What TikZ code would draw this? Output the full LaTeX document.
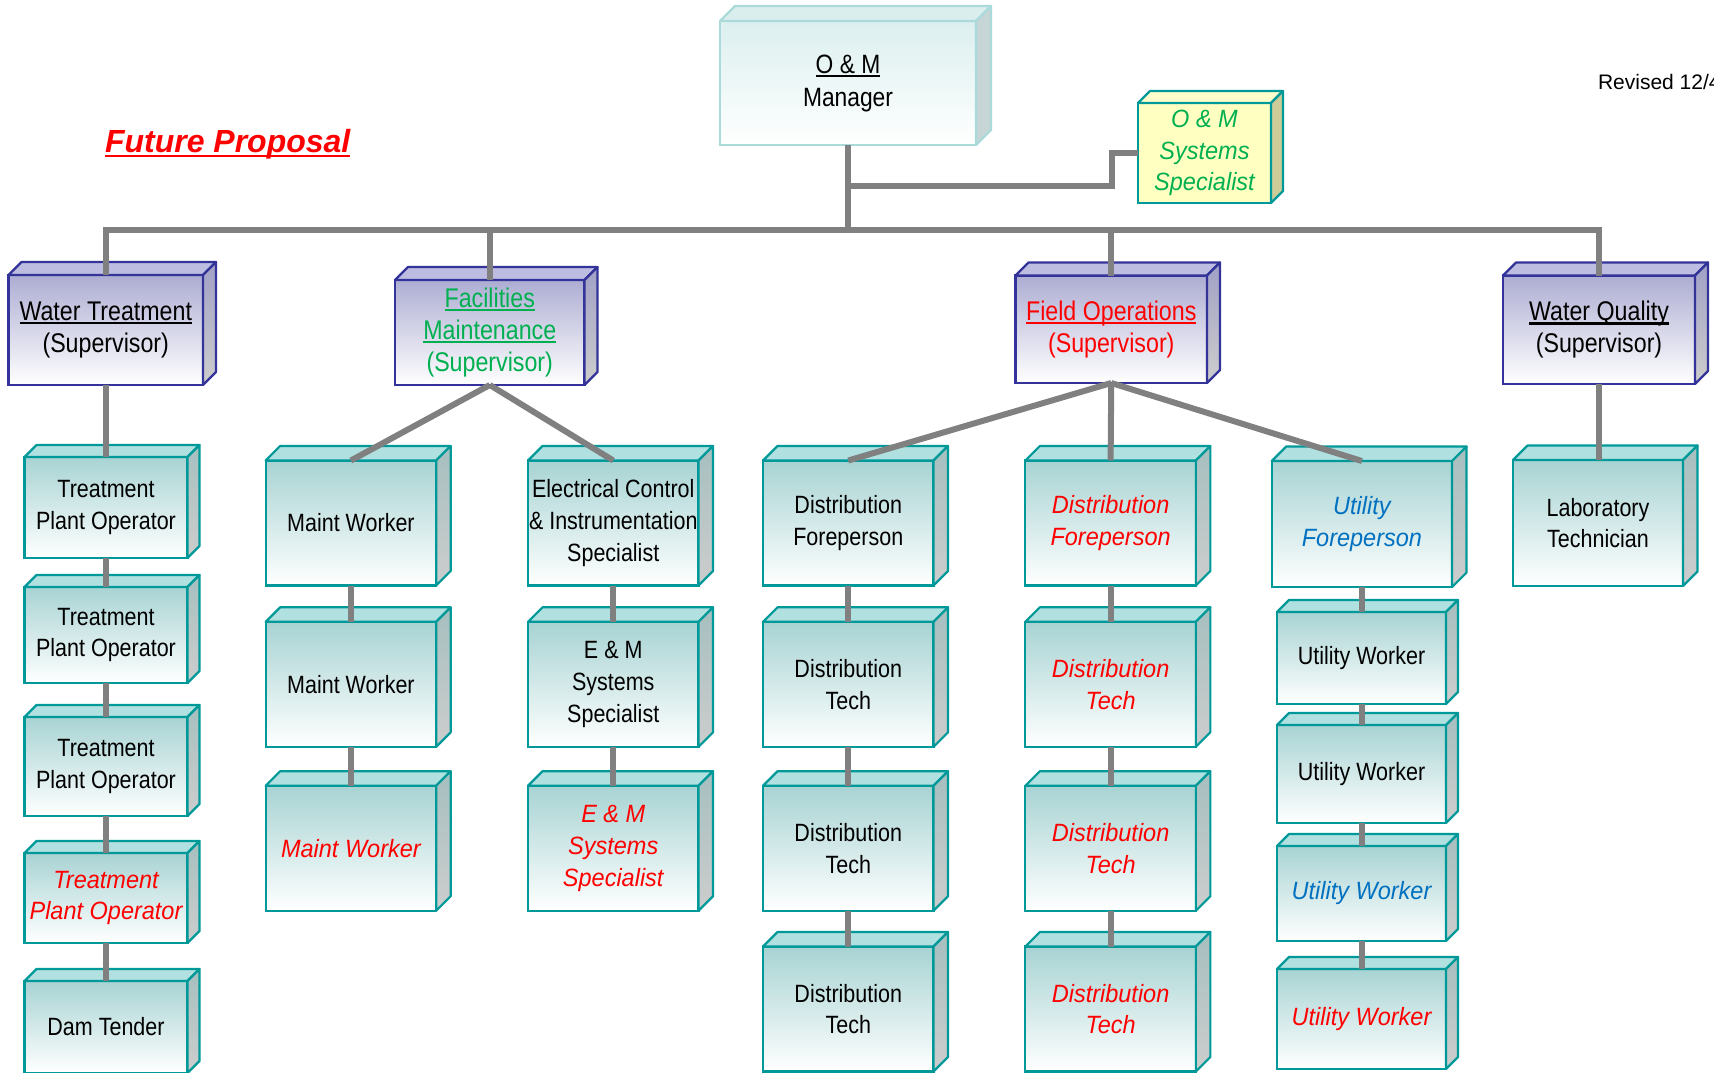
\documentclass[tikz,border=0pt]{standalone}
\usepackage{fontspec}
\setmainfont{Liberation Sans}[FakeStretch=0.86,ItalicFeatures={FakeStretch=0.94}]
\newfontfamily\widesans{Liberation Sans}
\definecolor{tealedge}{HTML}{009999}
\definecolor{tealfront}{HTML}{A8D3D3}
\definecolor{tealtint}{HTML}{B0E0E0}
\definecolor{tealwallc}{HTML}{A6BFBF}
\definecolor{wallgray}{HTML}{CDCDCD}
\definecolor{navyedge}{HTML}{333399}
\definecolor{lilacfront}{HTML}{ADADD3}
\definecolor{lilactint}{HTML}{BDBDE2}
\definecolor{lilacwallc}{HTML}{A0A0C6}
\definecolor{paleedge}{HTML}{ABDADA}
\definecolor{palefront}{HTML}{DCEFEF}
\definecolor{paletint}{HTML}{DAEEEE}
\definecolor{palewallc}{HTML}{C6D6D6}
\definecolor{lemonfront}{HTML}{FFFFC2}
\definecolor{lemontint}{HTML}{FFFFCC}
\definecolor{lemonwallc}{HTML}{CCCC99}
\definecolor{linkgray}{HTML}{808080}
\definecolor{newred}{HTML}{FF0000}
\definecolor{fmgreen}{HTML}{00B050}
\definecolor{utilblue}{HTML}{0070C0}

\newcommand\boxfont{\fontsize{25}{31.7}\selectfont}
\newcommand\supfont{\fontsize{27}{32}\selectfont}
\newcommand\ulin[1]{\setbox0\hbox{#1}\rlap{\rule[-0.14em]{\wd0}{0.075em}}\box0}
% roof and right wall of a box node: name, depth, style prefix
\newcommand\boxsides[3]{%
  \draw[#3roof] (#1.north west) -- ++(#2,#2) -- ([shift={(#2,#2)}]#1.north east) -- (#1.north east) -- cycle;
  \draw[#3wall] (#1.north east) -- ([shift={(#2,#2)}]#1.north east) -- ([shift={(#2,#2)}]#1.south east) -- (#1.south east) -- cycle;
}

\begin{document}
\begin{tikzpicture}[x=1pt,y=1pt,
    every node/.style={inner sep=0pt,outer sep=0pt,align=center,font=\boxfont},
    teal/.style={draw=tealedge,line width=2.2pt,top color=tealfront,bottom color=white},
    tealroof/.style={draw=tealedge,line width=2.2pt,fill=tealtint,line join=round},
    tealwall/.style={draw=tealedge,line width=2.2pt,top color=tealwallc,bottom color=wallgray,line join=round},
    lilac/.style={draw=navyedge,line width=2.2pt,top color=lilacfront,bottom color=white,font=\supfont},
    lilacroof/.style={draw=navyedge,line width=2.2pt,fill=lilactint,line join=round},
    lilacwall/.style={draw=navyedge,line width=2.2pt,top color=lilacwallc,bottom color=wallgray,line join=round},
    pale/.style={draw=paleedge,line width=2.2pt,top color=palefront,bottom color=white},
    paleroof/.style={draw=paleedge,line width=2.2pt,fill=paletint,line join=round},
    palewall/.style={draw=paleedge,line width=2.2pt,fill=palewallc,line join=round},
    lemon/.style={draw=tealedge,line width=2.2pt,fill=lemonfront},
    lemonroof/.style={draw=tealedge,line width=2.2pt,fill=lemontint,line join=round},
    lemonwall/.style={draw=tealedge,line width=2.2pt,fill=lemonwallc,line join=round},
    wide/.style={minimum width=170.5,minimum height=125},
    col1/.style={minimum width=163},
    col6/.style={minimum width=169},
    redit/.style={text=newred,font=\boxfont\itshape},
    blueit/.style={text=utilblue,font=\boxfont\itshape},
    link/.style={draw=linkgray,line width=6pt}]
    \useasboundingbox (0,0) rectangle (1714,-1072);

    \node[text=newred,font=\widesans\fontsize{32}{36}\selectfont\bfseries\itshape,anchor=base west] (title) at (105,-152.7) {\ulin{Future Proposal}};
    \node[font=\widesans\fontsize{21}{25}\selectfont,anchor=west] (rev) at (1598,-82) {Revised 12/4};

    % top
    \node[pale,minimum width=256,minimum height=124,font=\fontsize{26.5}{33}\selectfont] (mgr) at (848,-83) {\ulin{O \& M}\\Manager};
    \node[lemon,minimum width=133,minimum height=100,text=fmgreen,font=\boxfont\itshape] (spec) at (1204.5,-153) {O \& M\\Systems\\Specialist};

    % supervisors
    \node[lilac,minimum width=194.5,minimum height=110] (wt) at (105.75,-330) {\ulin{Water Treatment}\\(Supervisor)};
    \node[lilac,minimum width=189.5,minimum height=105,text=fmgreen] (fm) at (489.75,-332.5) {\ulin{Facilities}\\\ulin{Maintenance}\\(Supervisor)};
    \node[lilac,minimum width=191.5,minimum height=107.5,text=newred] (fo) at (1111.25,-329.25) {\ulin{Field Operations}\\(Supervisor)};
    \node[lilac,minimum width=192,minimum height=108.5] (wq) at (1599,-329.75) {\ulin{Water Quality}\\(Supervisor)};

    % water treatment
    \node[teal,col1,minimum height=101] (tpo1) at (106,-507.5) {Treatment\\Plant Operator};
    \node[teal,col1,minimum height=96] (tpo2) at (106,-635) {Treatment\\Plant Operator};
    \node[teal,col1,minimum height=99] (tpo3) at (106,-766.5) {Treatment\\Plant Operator};
    \node[teal,col1,minimum height=90,redit] (tpo4) at (106,-898) {Treatment\\Plant Operator};
    \node[teal,col1,minimum height=92] (dam) at (106,-1027) {Dam Tender};

    % facilities maintenance
    \node[teal,wide] (mw1) at (350.9,-523) {Maint Worker};
    \node[teal,wide] (mw2) at (350.9,-684.3) {Maint Worker};
    \node[teal,wide,redit] (mw3) at (350.9,-848.25) {Maint Worker};
    \node[teal,wide] (eci) at (613.25,-523) {Electrical Control\\\& Instrumentation\\Specialist};
    \node[teal,wide] (ems1) at (613.25,-684.3) {E \& M\\Systems\\Specialist};
    \node[teal,wide,redit] (ems2) at (613.25,-848.25) {E \& M\\Systems\\Specialist};

    % field operations
    \node[teal,wide] (dfp1) at (848.25,-523) {Distribution\\Foreperson};
    \node[teal,wide] (dt1) at (848.25,-684.3) {Distribution\\Tech};
    \node[teal,wide] (dt2) at (848.25,-848.25) {Distribution\\Tech};
    \node[teal,wide] (dt3) at (848.25,-1009) {Distribution\\Tech};
    \node[teal,wide,redit] (dfp2) at (1110.6,-523) {Distribution\\Foreperson};
    \node[teal,wide,redit] (dt4) at (1110.6,-684.3) {Distribution\\Tech};
    \node[teal,wide,redit] (dt5) at (1110.6,-848.25) {Distribution\\Tech};
    \node[teal,wide,redit] (dt6) at (1110.6,-1009) {Distribution\\Tech};
    \node[teal,minimum width=180.3,minimum height=126,blueit] (ufp) at (1361.9,-524) {Utility\\Foreperson};
    \node[teal,col6,minimum height=92] (uw1) at (1361.5,-658) {Utility Worker};
    \node[teal,col6,minimum height=98] (uw2) at (1361.5,-774) {Utility Worker};
    \node[teal,col6,minimum height=95,blueit] (uw3) at (1361.5,-893.5) {Utility Worker};
    \node[teal,col6,minimum height=100,redit] (uw4) at (1361.5,-1019) {Utility Worker};

    % water quality
    \node[teal,minimum width=170,minimum height=126] (lab) at (1598,-523) {Laboratory\\Technician};

    \boxsides{mgr}{15}{pale}
    \boxsides{spec}{12}{lemon}
    \foreach \n in {wt,fm,fo,wq} {\boxsides{\n}{13}{lilac}}
    \foreach \n in {tpo1,tpo2,tpo3,tpo4,dam,uw1,uw2,uw3,uw4} {\boxsides{\n}{12}{teal}}
    \foreach \n in {mw1,mw2,mw3,eci,ems1,ems2,dfp1,dt1,dt2,dt3,dfp2,dt4,dt5,dt6,ufp,lab} {\boxsides{\n}{14.5}{teal}}

    % connectors
    \coordinate (bus) at (848,-229.5);
    \coordinate (jog) at (1112,-186);
    \draw[link] (mgr.south) -- (mgr.south |- bus);
    \draw[link] (mgr.south |- jog) -- (jog) |- (spec.west);
    \draw[link] (wt.north) |- (bus) -| (wq.north);
    \draw[link] (fm.north) -- (fm.north |- bus);
    \draw[link] (fo.north) -- (fo.north |- bus);
    \draw[link] (fm.south) -- (mw1.north);
    \draw[link] (fm.south) -- (eci.north);
    \draw[link] (fo.south) -- (dfp1.north);
    \draw[link] (fo.south) -- (dfp2.north);
    \draw[link] (fo.south) -- (ufp.north);
    \foreach \a/\b in {wt/tpo1,tpo1/tpo2,tpo2/tpo3,tpo3/tpo4,tpo4/dam,mw1/mw2,mw2/mw3,eci/ems1,ems1/ems2,
        dfp1/dt1,dt1/dt2,dt2/dt3,dfp2/dt4,dt4/dt5,dt5/dt6,ufp/uw1,uw1/uw2,uw2/uw3,uw3/uw4,wq/lab}
      \draw[link] (\a.south) -- (\a.south |- \b.north);
\end{tikzpicture}
\end{document}
